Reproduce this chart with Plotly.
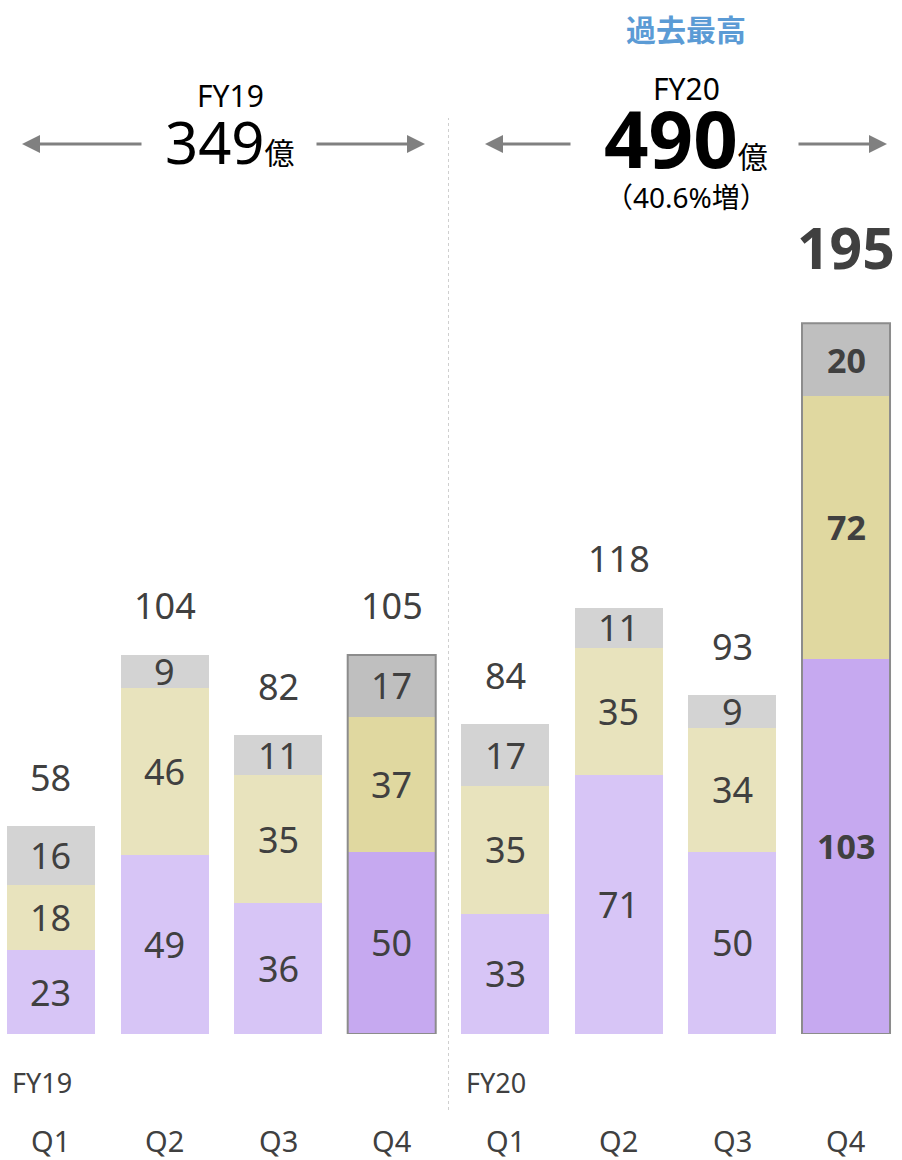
import plotly.graph_objects as go

# Quarterly values (億円), three stacked components per quarter
quarters = ["Q1", "Q2", "Q3", "Q4", "Q1", "Q2", "Q3", "Q4"]
seg_bottom = [23, 49, 36, 50, 33, 71, 50, 103]
seg_middle = [18, 46, 35, 37, 35, 35, 34, 72]
seg_top = [16, 9, 11, 17, 17, 11, 9, 20]
totals = [58, 104, 82, 105, 84, 118, 93, 195]
highlight = [False, False, False, True, False, False, False, True]

W, H = 902, 1160
BASE = 1034          # pixel y of the bar baseline
YMAX = 283.7
BAR_W = 0.775
FONT = "Noto Sans, Noto Sans CJK JP, sans-serif"
TXT = "#404040"


def px(x):
    return x / W


def py(y):
    return (BASE - y) / BASE


xs = list(range(len(quarters)))

light = {"bottom": "#d7c5f6", "middle": "#e8e3bd", "top": "#d3d3d3"}
dark = {"bottom": "#c6a9f0", "middle": "#e0d8a0", "top": "#bfbfbf"}


def colors(key):
    return [dark[key] if h else light[key] for h in highlight]


fig = go.Figure()
for key, vals in [("bottom", seg_bottom), ("middle", seg_middle), ("top", seg_top)]:
    fig.add_trace(go.Bar(
        x=xs, y=vals, width=BAR_W,
        marker=dict(color=colors(key), line=dict(width=0)),
        hoverinfo="skip", showlegend=False,
    ))

ann = []
shapes = []

# segment labels
for i in xs:
    base = 0
    for vals in (seg_bottom, seg_middle, seg_top):
        v = vals[i]
        label = f"<b>{v}</b>" if i == 7 else str(v)
        ann.append(dict(x=i, y=base + v / 2, xref="x", yref="y", text=label,
                        showarrow=False, font=dict(family=FONT, size=34 if i == 7 else 36, color=TXT)))
        base += v
    # total above bar
    if i == 7:
        ann.append(dict(x=i, y=base, xref="x", yref="y", text=f"<b>{totals[i]}</b>", yshift=76,
                        showarrow=False, font=dict(family=FONT, size=57, color=TXT)))
    else:
        ann.append(dict(x=i, y=base, xref="x", yref="y", text=str(totals[i]), yshift=49,
                        showarrow=False, font=dict(family=FONT, size=36, color=TXT)))
    if highlight[i]:
        shapes.append(dict(type="rect", xref="x", yref="y", x0=i - BAR_W / 2, x1=i + BAR_W / 2,
                           y0=0, y1=base, line=dict(color="#8c8c8c", width=2)))
    # quarter labels
    ann.append(dict(x=i, y=py(1140), xref="x", yref="paper", text=quarters[i], showarrow=False,
                    yanchor="middle", font=dict(family=FONT, size=29, color=TXT)))

# fiscal year labels under bars
for xpix, lab in [(10, "FY19"), (464, "FY20")]:
    ann.append(dict(x=px(xpix), y=py(1082), xref="paper", yref="paper", text=lab,
                    xanchor="left", yanchor="middle", showarrow=False,
                    font=dict(family=FONT, size=27, color=TXT)))

# divider between years
shapes.append(dict(type="line", xref="x", yref="paper", x0=3.5, x1=3.5, y0=py(1110), y1=py(118),
                   line=dict(color="#cfcfcf", width=1, dash="dot")))

# headline annotations
head = [
    dict(x=px(230), y=py(96), text="FY19", font=dict(family=FONT, size=30, color="#000")),
    dict(x=px(230), y=py(141), text="349<span style='font-size:30px'>億</span>",
         font=dict(family=FONT, size=58, color="#000")),
    dict(x=px(686), y=py(28), text="<b>過去最高</b>",
         font=dict(family="Noto Sans CJK JP", size=30, color="#5b9bd5")),
    dict(x=px(686), y=py(88), text="FY20", font=dict(family=FONT, size=30, color="#000")),
    dict(x=px(686), y=py(138), text="<b>490</b><span style='font-size:30px'>億</span>",
         font=dict(family=FONT, size=78, color="#000")),
    dict(x=px(686), y=py(197), text="（40.6%増）", font=dict(family=FONT, size=28, color="#000")),
]
for a in head:
    a.update(xref="paper", yref="paper", showarrow=False, xanchor="center", yanchor="middle")
ann += head

# arrows (head, tail) in pixels
for hx, tx in [(22, 143), (425, 315), (485, 572), (887, 797)]:
    ann.append(dict(x=px(hx), y=py(144), xref="paper", yref="paper", ax=tx - hx, ay=0,
                    text="", showarrow=True, arrowhead=2, arrowsize=1.2, arrowwidth=3,
                    arrowcolor="#808080"))

fig.update_layout(
    barmode="stack",
    width=W, height=H,
    margin=dict(l=0, r=0, t=0, b=H - BASE, pad=0),
    plot_bgcolor="white", paper_bgcolor="white",
    xaxis=dict(range=[-0.449, 7.493], visible=False, fixedrange=True),
    yaxis=dict(range=[0, YMAX], visible=False, fixedrange=True),
    annotations=ann, shapes=shapes,
    bargap=0,
)

fig.write_html("out.html", config={"displayModeBar": False},
               post_script="document.body.style.margin='0';")
